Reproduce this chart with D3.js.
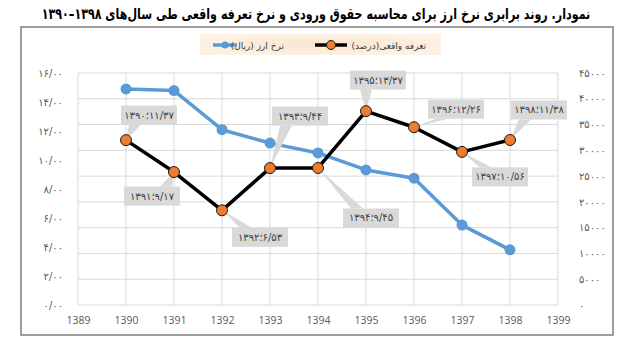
<!DOCTYPE html>
<html>
<head>
<meta charset="utf-8">
<script src="https://cdn.jsdelivr.net/npm/d3@7"></script>
<style>
  body { margin: 0; background: #fff; }
  svg text { font-family: "DejaVu Sans", sans-serif; }
</style>
</head>
<body>
<svg id="chart" width="632" height="351"></svg>
<script>
// --- data ---
const years = [1390, 1391, 1392, 1393, 1394, 1395, 1396, 1397, 1398];
const exchangeRate = [41900, 41600, 34000, 31400, 29500, 26200, 24600, 15500, 10700]; // نرخ ارز (ریال)
const realTariff = [11.37, 9.17, 6.53, 9.44, 9.45, 13.37, 12.26, 10.56, 11.38];      // تعرفه واقعی (درصد)
const xTicks = [1389, 1390, 1391, 1392, 1393, 1394, 1395, 1396, 1397, 1398, 1399];
const leftTicks = [0, 2, 4, 6, 8, 10, 12, 14, 16];
const rightTicks = [0, 5000, 10000, 15000, 20000, 25000, 30000, 35000, 40000, 45000];

const titleText = "نمودار. روند برابری نرخ ارز برای محاسبه حقوق ورودی و نرخ تعرفه واقعی طی سال‌های \u2066۱۳۹۰–۱۳۹۸\u2069";
const seriesNames = ["نرخ ارز (ریال)", "تعرفه واقعی(درصد)"];

// callout offsets (box centre relative to point)
const calloutOffsets = [[23, -25], [-22, 24], [38, 27], [30, -52], [53, 50], [12, -31], [42, -18], [38, 25], [29, -30]];

const fa = s => String(s).replace(/[0-9]/g, d => "۰۱۲۳۴۵۶۷۸۹"[d]);
const faDec = v => fa(v.toFixed(2)).replace(".", "/");

const svg = d3.select("#chart");
const blue = "#5b9bd5", orange = "#ed7d31", grey = "#595959";

// frame
svg.append("rect").attr("x", 21).attr("y", 27).attr("width", 592).attr("height", 308)
  .attr("fill", "none").attr("stroke", "#7f7f7f").attr("stroke-width", 1.5);

// title (squeezed horizontally to the reference width)
const title = svg.append("text")
  .attr("x", 0).attr("y", 0)
  .attr("text-anchor", "middle")
  .attr("direction", "rtl")
  .style("font-size", "15px").style("font-weight", "bold").style("fill", "#000")
  .text(titleText);
const tw = title.node().getBBox().width;
title.attr("transform", `translate(316,19) scale(${549 / tw},1)`);

// scales
const x = d3.scaleLinear().domain([1389, 1399]).range([78, 558]);
const yL = d3.scaleLinear().domain([0, 16]).range([305, 73]);
const yR = d3.scaleLinear().domain([0, 45000]).range([305, 73]);

// gridlines
const grid = svg.append("g").attr("stroke", "#d9d9d9").attr("stroke-width", 1);
grid.selectAll("line.h").data(rightTicks).enter().append("line")
  .attr("x1", x(1389)).attr("x2", x(1399))
  .attr("y1", d => yR(d)).attr("y2", d => yR(d));
grid.selectAll("line.v").data(xTicks).enter().append("line")
  .attr("x1", d => x(d)).attr("x2", d => x(d))
  .attr("y1", yR(0)).attr("y2", yR(45000));

// axes
const axL = svg.append("g").attr("transform", "translate(78,0)")
  .call(d3.axisLeft(yL).tickValues(leftTicks).tickSize(0).tickPadding(15).tickFormat(faDec));
const axR = svg.append("g").attr("transform", "translate(558,0)")
  .call(d3.axisRight(yR).tickValues(rightTicks).tickSize(0).tickPadding(21).tickFormat(fa));
const axB = svg.append("g").attr("transform", "translate(0,305)")
  .call(d3.axisBottom(x).tickValues(xTicks).tickSize(0).tickPadding(12).tickFormat(d3.format("d")));
[axL, axR, axB].forEach(a => {
  a.select(".domain").remove();
  a.selectAll("text").style("fill", grey);
});
[axL, axR].forEach(a => a.selectAll("text")
  .style("direction", "ltr").style("unicode-bidi", "bidi-override").style("font-size", "10px"));
axB.selectAll("text").style("font-family", "'Open Sans', sans-serif").style("font-size", "10.5px");

// lines
const lineBlue = d3.line().x((d, i) => x(years[i])).y(d => yR(d));
const lineBlack = d3.line().x((d, i) => x(years[i])).y(d => yL(d));
svg.append("path").datum(exchangeRate).attr("d", lineBlue)
  .attr("fill", "none").attr("stroke", blue).attr("stroke-width", 3.5).attr("stroke-linejoin", "round");
svg.selectAll("circle.blue").data(exchangeRate).enter().append("circle")
  .attr("cx", (d, i) => x(years[i])).attr("cy", d => yR(d)).attr("r", 5.5).attr("fill", blue);

// callouts (under the black series)
const calls = svg.append("g");
realTariff.forEach((v, i) => {
  const px = x(years[i]), py = yL(v);
  const w = 56, h = 19;
  const cx = px + calloutOffsets[i][0], cy = py + calloutOffsets[i][1];
  const l = cx - w / 2, r = cx + w / 2, t = cy - h / 2, b = cy + h / 2;
  const by = py < t ? t : b;
  const bx = Math.max(l + w * 0.25, Math.min(r - w * 0.25, px));
  calls.append("polygon")
    .attr("points", `${bx - 6},${by} ${bx + 6},${by} ${px},${py}`)
    .attr("fill", "#d9d9d9");
  calls.append("rect").attr("x", l).attr("y", t).attr("width", w).attr("height", h).attr("fill", "#d9d9d9");
  calls.append("text")
    .attr("x", cx).attr("y", cy + 3.5)
    .attr("text-anchor", "middle")
    .style("direction", "ltr").style("unicode-bidi", "bidi-override")
    .style("font-size", "10px").style("fill", "#404040")
    .text(fa(years[i]) + "؛" + faDec(v));
});

svg.append("path").datum(realTariff).attr("d", lineBlack)
  .attr("fill", "none").attr("stroke", "#000").attr("stroke-width", 3.5).attr("stroke-linejoin", "round");
svg.selectAll("circle.orange").data(realTariff).enter().append("circle")
  .attr("cx", (d, i) => x(years[i])).attr("cy", d => yL(d)).attr("r", 5.5)
  .attr("fill", orange).attr("stroke", "#1a1a1a").attr("stroke-width", 1);

// legend
const defs = svg.append("defs");
const rg = defs.append("radialGradient").attr("id", "lg");
rg.append("stop").attr("offset", "0%").attr("stop-color", "#f9e6cc");
rg.append("stop").attr("offset", "100%").attr("stop-color", "#fcf1e3");
svg.append("rect").attr("x", 200).attr("y", 34).attr("width", 241).attr("height", 21).attr("fill", "url(#lg)");

const leg = svg.append("g");
leg.append("line").attr("x1", 213).attr("x2", 237).attr("y1", 45).attr("y2", 45)
  .attr("stroke", blue).attr("stroke-width", 3.5);
leg.append("circle").attr("cx", 225).attr("cy", 45).attr("r", 3.5).attr("fill", blue);
leg.append("text").attr("x", 284).attr("y", 48.5).attr("text-anchor", "start").attr("direction", "rtl")
  .style("font-size", "9px").style("fill", "#404040").text(seriesNames[0]);
leg.append("line").attr("x1", 315).attr("x2", 347).attr("y1", 45).attr("y2", 45)
  .attr("stroke", "#000").attr("stroke-width", 3.5);
leg.append("circle").attr("cx", 331).attr("cy", 45).attr("r", 4.5)
  .attr("fill", orange).attr("stroke", "#1a1a1a").attr("stroke-width", 1);
leg.append("text").attr("x", 426).attr("y", 48.5).attr("text-anchor", "start").attr("direction", "rtl")
  .style("font-size", "9px").style("fill", "#404040").text(seriesNames[1]);
</script>
</body>
</html>
